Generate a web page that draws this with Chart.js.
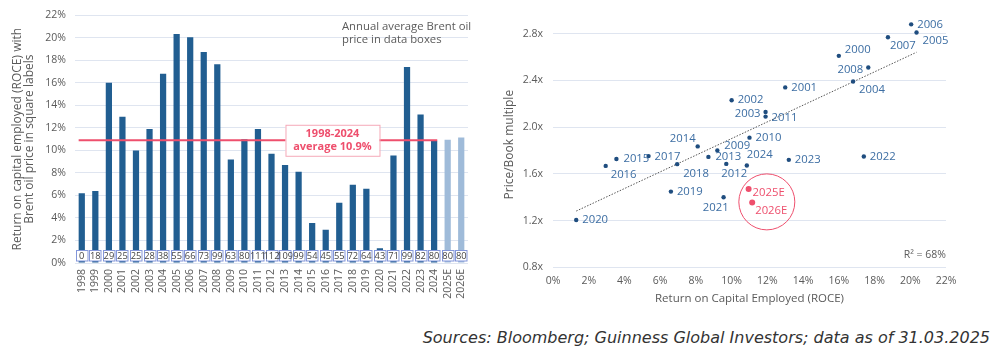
<!DOCTYPE html>
<html><head><meta charset="utf-8">
<script src="https://cdn.jsdelivr.net/npm/chart.js@4"></script>
<style>
html,body{margin:0;padding:0;background:#fff;width:999px;height:356px;overflow:hidden;font-family:'Open Sans',sans-serif}
#w1{position:absolute;left:0;top:0;width:480px;height:312px}
#w2{position:absolute;left:498px;top:0;width:501px;height:310px}
#src{position:absolute;right:9px;top:328px;font-style:italic;font-size:16px;color:#333;white-space:nowrap;font-family:'DejaVu Sans',sans-serif}
</style></head>
<body>
<div id="w1"><canvas id="c1" width="480" height="312"></canvas></div>
<div id="w2"><canvas id="c2" width="501" height="310"></canvas></div>
<div id="src">Sources: Bloomberg; Guinness Global Investors; data as of 31.03.2025</div>
<script>
// ---------- DATA ----------
const years = ['1998','1999','2000','2001','2002','2003','2004','2005','2006','2007','2008','2009','2010','2011','2012','2013','2014','2015','2016','2017','2018','2019','2020','2021','2022','2023','2024','2025E','2026E'];
const roce = [6.2,6.4,16.0,13.0,10.0,11.9,16.8,20.35,20.05,18.75,17.65,9.2,11.0,11.9,9.7,8.7,8.1,3.55,2.95,5.35,6.95,6.6,1.3,9.55,17.4,13.2,10.85,10.95,11.15];
const brent = [0,18,29,25,25,28,38,55,66,73,99,63,80,111,112,109,99,54,45,55,72,64,43,71,99,82,80,80,80];
const pbYears = years.slice(2); // 2000 .. 2026E
const priceToBook = [2.61,2.34,2.23,2.13,2.39,2.81,2.88,2.77,2.51,1.80,1.91,2.09,1.685,1.745,1.835,1.727,1.668,1.752,1.683,1.448,1.205,1.40,1.748,1.72,1.671,1.47,1.355];
const pbTicks = [0.8,1.2,1.6,2.0,2.4,2.8];
const roceTicks = [0,2,4,6,8,10,12,14,16,18,20,22];
const averageRoce = 10.9;
const averageLabel = ['1998-2024','average 10.9%'];
const rSquared = 'R\u00B2 = 68%';

// ---------- STYLE ----------
const DARK = '#215e91', LIGHT = '#9fbbd9', PINK = '#ee4f6d', GRID = '#dfe5f0', TXT = '#5a5a5a';
const NAVY = '#1f4d7f', LBL = '#3d6ea3';
const FONT = "'Open Sans', sans-serif";

// ---------- CHART 1 ----------
const isEst = y => y.endsWith('E');
const boxPlugin = {
  id:'boxes',
  afterDatasetsDraw(chart){
    const {ctx, chartArea:a, scales:{x,y}} = chart;
    ctx.save();
    const yAvg = y.getPixelForValue(averageRoce);
    const meta = chart.getDatasetMeta(0);
    const i24 = years.indexOf('2024');
    const x0 = meta.data[0].x - meta.data[0].width/2;
    const x1 = meta.data[i24].x + meta.data[i24].width/2;
    ctx.strokeStyle = PINK; ctx.lineWidth = 2;
    ctx.beginPath(); ctx.moveTo(x0,yAvg); ctx.lineTo(x1,yAvg); ctx.stroke();
    const cx = x.getPixelForValue(18.5);
    ctx.fillStyle = '#fff'; ctx.strokeStyle = '#f5a9b8'; ctx.lineWidth = 1;
    ctx.fillRect(cx-47, yAvg-15.5, 94, 31); ctx.strokeRect(cx-47+0.5, yAvg-15.5+0.5, 94, 31);
    ctx.fillStyle = PINK; ctx.font = "bold 11px " + FONT; ctx.textAlign='center'; ctx.textBaseline='middle';
    ctx.fillText(averageLabel[0], cx, yAvg-6);
    ctx.fillText(averageLabel[1], cx, yAvg+7);
    const by = y.getPixelForValue(0) - 7.5;
    ctx.font = "9.3px " + FONT;
    meta.data.forEach((bar,i)=>{
      const bx = bar.x;
      ctx.fillStyle='#fff'; ctx.fillRect(bx-6, by-5.5, 12, 11);
      ctx.strokeStyle='#8396da'; ctx.lineWidth=1; ctx.strokeRect(Math.round(bx-6)+0.5, Math.round(by-5.5)+0.5, 11.5, 10.5);
      ctx.fillStyle='#444'; ctx.fillText(String(brent[i]), bx, by+0.5);
    });
    ctx.fillStyle = TXT; ctx.font = "11.3px " + FONT; ctx.textAlign='left';
    const nx = x.getPixelForValue(19.2);
    ctx.fillText('Annual average Brent oil', nx, 27);
    ctx.fillText('price in data boxes', nx, 39.5);
    ctx.restore();
  }
};

new Chart(document.getElementById('c1'), {
  type:'bar',
  data:{labels:years, datasets:[{data:roce, backgroundColor:years.map(y=>isEst(y)?LIGHT:DARK), barPercentage:0.46, categoryPercentage:1}]},
  options:{
    responsive:false, animation:false, devicePixelRatio:1,
    layout:{padding:{left:0,top:14,right:10,bottom:0}},
    plugins:{legend:{display:false}, tooltip:{enabled:false}},
    scales:{
      x:{grid:{display:false, drawTicks:false}, border:{display:false},
         ticks:{autoSkip:false, minRotation:90, maxRotation:90, padding:6, color:TXT, font:{size:10.5, family:FONT}},
         afterFit(s){ s.height = 49; }},
      y:{min:0, max:22, grid:{color:GRID, drawTicks:false}, border:{display:false},
         afterBuildTicks(s){ s.ticks = roceTicks.map(v=>({value:v})); },
         ticks:{padding:9, color:TXT, font:{size:10.5, family:FONT}, callback:v=>v+'%'},
         title:{display:true, text:['Return on capital employed (ROCE) with','Brent oil price in square labels'], color:TXT, font:{size:12, family:FONT, lineHeight:1.0}, padding:{top:12,bottom:0}},
         afterFit(s){ s.width = 75; }}
    }
  },
  plugins:[boxPlugin]
});

// ---------- CHART 2 ----------
const histN = years.indexOf('2024') - 1;
const pts = pbYears.map((yr,i)=>({x:roce[i+2], y:priceToBook[i], yr}));
const hist = pts.slice(0, histN);
const est = pts.slice(histN);
const n = hist.length;
const mx = hist.reduce((s,p)=>s+p.x,0)/n, my = hist.reduce((s,p)=>s+p.y,0)/n;
const slope = hist.reduce((s,p)=>s+(p.x-mx)*(p.y-my),0)/hist.reduce((s,p)=>s+(p.x-mx)**2,0);
const icpt = my - slope*mx;
const xmin = Math.min(...hist.map(p=>p.x)), xmax = Math.max(...hist.map(p=>p.x));
const trend = [{x:xmin,y:icpt+slope*xmin},{x:xmax,y:icpt+slope*xmax}];

const place = {
  '2000':[6,-6,'left'],'2001':[6,0,'left'],'2002':[6,0,'left'],'2003':[-5,2,'right'],'2004':[6,8,'left'],
  '2005':[6,8,'left'],'2006':[6,0,'left'],'2007':[2,9,'left'],'2008':[-5,2,'right'],'2009':[7,-5,'left'],
  '2010':[6,0,'left'],'2011':[6,1,'left'],'2012':[-5,10,'left'],'2013':[7,0,'left'],'2014':[-2,-8,'right'],
  '2015':[7,0,'left'],'2016':[5,9,'left'],'2017':[6,1,'left'],'2018':[6,10,'left'],'2019':[6,0,'left'],
  '2020':[6,0,'left'],'2021':[5,11,'right'],'2022':[6,0,'left'],'2023':[6,0,'left'],'2024':[0,-11,'left'],
  '2025E':[4,4,'left'],'2026E':[3,8,'left']
};
const circle = {x:11.97, y:1.36, r:28};

const labelPlugin = {
  id:'labels',
  afterDatasetsDraw(chart){
    const {ctx, chartArea:a, scales:{x,y}} = chart;
    ctx.save();
    ctx.font = "11.3px " + FONT; ctx.textBaseline='middle';
    [0,1].forEach(di=>{
      const meta = chart.getDatasetMeta(di);
      const src = di===0?hist:est;
      meta.data.forEach((el,i)=>{
        const p = place[src[i].yr] || [6,0,'left'];
        ctx.fillStyle = di===0?LBL:PINK; ctx.textAlign = p[2];
        ctx.fillText(src[i].yr, el.x+p[0], el.y+p[1]);
      });
    });
    ctx.strokeStyle = PINK; ctx.lineWidth=1;
    ctx.beginPath(); ctx.arc(x.getPixelForValue(circle.x), y.getPixelForValue(circle.y), circle.r, 0, Math.PI*2); ctx.stroke();
    ctx.fillStyle = TXT; ctx.font="10.5px "+FONT; ctx.textAlign='right';
    ctx.fillText(rSquared, a.right, a.bottom-12);
    ctx.restore();
  }
};

new Chart(document.getElementById('c2'), {
  type:'scatter',
  data:{datasets:[
    {data:hist, pointRadius:2.2, pointBackgroundColor:NAVY, pointBorderWidth:0},
    {data:est, pointRadius:3, pointBackgroundColor:PINK, pointBorderWidth:0},
    {type:'line', data:trend, borderColor:'#555', borderWidth:1, borderDash:[1.5,1.5], pointRadius:0, fill:false}
  ]},
  options:{
    responsive:false, animation:false, devicePixelRatio:1,
    layout:{padding:{left:0,top:22,right:53,bottom:0}},
    plugins:{legend:{display:false}, tooltip:{enabled:false}},
    scales:{
      x:{type:'linear', min:0, max:22, grid:{display:false, drawTicks:false}, border:{display:false},
         afterBuildTicks(s){ s.ticks = roceTicks.map(v=>({value:v})); },
         ticks:{padding:7, color:TXT, font:{size:10.5, family:FONT}, callback:v=>v+'%'},
         title:{display:true, text:'Return on Capital Employed (ROCE)', color:TXT, font:{size:11.5, family:FONT}, padding:{top:2,bottom:4}},
         afterFit(s){ s.height = 42.7; }},
      y:{min:0.8, max:2.9, grid:{color:GRID, drawTicks:false}, border:{display:false},
         afterBuildTicks(s){ s.ticks = pbTicks.map(v=>({value:v})); },
         ticks:{padding:10, color:TXT, font:{size:10.5, family:FONT}, callback:v=>v.toFixed(1)+'x'},
         title:{display:true, text:'Price/Book multiple', color:TXT, font:{size:12, family:FONT}, padding:{top:4,bottom:0}},
         afterFit(s){ s.width = 55; }}
    }
  },
  plugins:[labelPlugin]
});
</script>
</body></html>
